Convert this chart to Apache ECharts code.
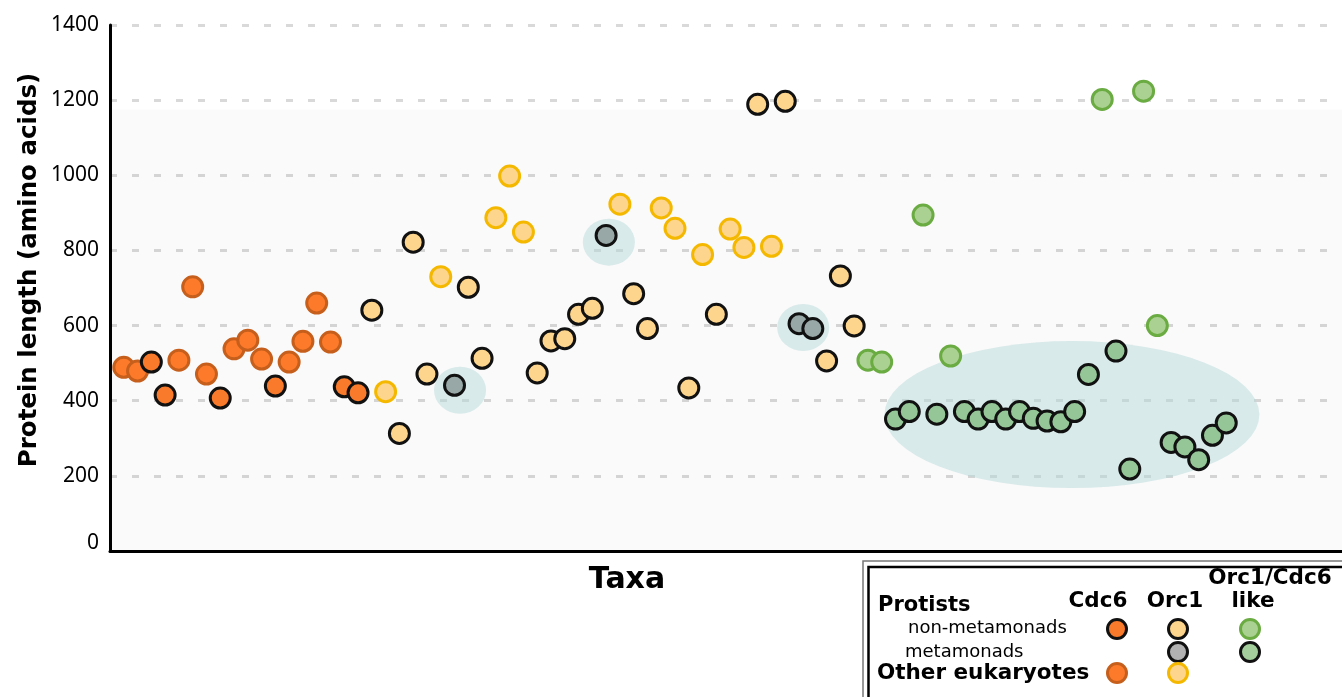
<!DOCTYPE html>
<html>
<head>
<meta charset="utf-8">
<script src="https://cdn.jsdelivr.net/npm/echarts@6/dist/echarts.min.js"></script>
<style>
  html, body { margin: 0; padding: 0; background: #ffffff; }
  #chart { width: 1342px; height: 697px; }
</style>
</head>
<body>
<div id="chart"></div>
<script>
// Protein length (amino acids) of each sequence, taxa ordered left to right
const lengths = [
  489, 479, 503, 415, 508, 703, 471, 407, 538, 561, 511, 439, 503, 558, 660, 556, 437, 421,
  641, 424, 313, 822, 471, 730, 441, 702, 513, 887, 998, 849, 474, 559, 565, 630, 646, 840,
  923, 685, 592, 913, 859, 434, 789, 630, 857, 808, 1189, 811, 1197, 605, 592, 506, 732, 599,
  508, 503, 351, 371, 894, 364, 519, 371, 351, 371, 351, 371, 353, 346, 344, 371, 470, 1202,
  532, 218, 1224, 600, 289, 277, 243, 308, 341
];

// Group of each sequence:
// C = Cdc6, other eukaryotes      P = Cdc6, protists (non-metamonads)
// O = Orc1, protists (non-meta)   Y = Orc1, other eukaryotes   G = Orc1, metamonads
// L = Orc1/Cdc6-like, non-meta    M = Orc1/Cdc6-like, metamonads
const groups = [
  'C','C','P','P','C','C','C','P','C','C','C','P','C','C','C','C','P','P',
  'O','Y','O','O','O','Y','G','O','O','Y','Y','Y','O','O','O','O','O','G',
  'Y','O','O','Y','Y','O','Y','O','Y','Y','O','Y','O','G','G','O','O','O',
  'L','L','M','M','L','M','L','M','M','M','M','M','M','M','M','M','M','L',
  'M','M','L','L','M','M','M','M','M'
];

// Metamonad clusters highlighted behind the points: [taxon position, length]
const clusterCenters = [[24.4, 428], [35.2, 822], [49.3, 595], [68.8, 363]];

const yTicks = [0, 200, 400, 600, 800, 1000, 1200, 1400];

const groupStyle = {
  C: { color: '#fd7a2a', borderColor: '#c65f1c' },
  P: { color: '#fa7a2b', borderColor: '#111111' },
  O: { color: '#fed58c', borderColor: '#111111' },
  Y: { color: '#fed58c', borderColor: '#f5b800' },
  G: { color: '#97a8a6', borderColor: '#111111' },
  L: { color: '#abd192', borderColor: '#6aab42' },
  M: { color: '#94c697', borderColor: '#111111' }
};

const pointData = lengths.map((v, i) => ({
  value: [i, v],
  itemStyle: Object.assign({ borderWidth: 3, opacity: 1 }, groupStyle[groups[i]])
}));

const clusterSizes = [[52, 47], [52, 47], [52, 47], [375, 147]];
const clusterData = clusterCenters.map((c, i) => ({ value: c, symbolSize: clusterSizes[i] }));

const FONT = 'DejaVu Sans';

// Legend drawn as a boxed key
const legendItems = [];
function key(x, y, fill, stroke) {
  legendItems.push({
    type: 'circle', shape: { cx: x, cy: y, r: 9.5 },
    style: { fill: fill, stroke: stroke, lineWidth: 3 }
  });
}
function label(x, y, text, size, bold, align) {
  legendItems.push({
    type: 'text', x: x, y: y,
    style: {
      text: text, fill: '#000', font: (bold ? 'bold ' : '') + size + 'px "' + FONT + '"',
      textAlign: align || 'left', textVerticalAlign: 'middle'
    }
  });
}
legendItems.push({ type: 'rect', shape: { x: 863, y: 561, width: 520, height: 200 },
  style: { fill: '#ffffff', stroke: '#777777', lineWidth: 1.5 } });
legendItems.push({ type: 'rect', shape: { x: 868.5, y: 567, width: 520, height: 200 },
  style: { fill: 'none', stroke: '#000000', lineWidth: 2.5 } });
label(878, 606, 'Protists', 21, true);
label(1098, 601, 'Cdc6', 21.5, true, 'center');
label(1175, 601, 'Orc1', 21.5, true, 'center');
label(1270, 578, 'Orc1/Cdc6', 21.5, true, 'center');
label(1253, 601, 'like', 21.5, true, 'center');
label(908, 628, 'non-metamonads', 18, false);
label(905, 652, 'metamonads', 18, false);
label(877, 673, 'Other eukaryotes', 21.5, true);
key(1117, 629, '#fa7a2b', '#111111');
key(1178, 629, '#fed58c', '#111111');
key(1250, 629, '#abd192', '#6aab42');
key(1178, 652, '#b2b2b2', '#111111');
key(1250, 652, '#a4cf9c', '#111111');
key(1117, 673, '#fd7a2a', '#c65f1c');
key(1178, 673, '#fed58c', '#f5b800');

const chart = echarts.init(document.getElementById('chart'), null, { renderer: 'canvas' });

chart.setOption({
  backgroundColor: '#ffffff',
  animation: false,
  grid: { left: 110, right: 0, top: 25, bottom: 146, containLabel: false },
  xAxis: {
    type: 'value', min: -1, max: 88.4,
    axisLine: { show: true, onZero: false, lineStyle: { color: '#000', width: 3 } },
    axisTick: { show: false }, axisLabel: { show: false }, splitLine: { show: false }
  },
  yAxis: {
    type: 'value', min: yTicks[0], max: yTicks[yTicks.length - 1], interval: 200,
    axisLine: { show: true, onZero: false, lineStyle: { color: '#000', width: 3 } },
    axisTick: { show: false },
    axisLabel: {
      color: '#000', fontFamily: 'Noto Sans', fontSize: 21, margin: 11,
      formatter: v => v === 0 ? '{z|0}' : String(v),
      rich: { z: { color: '#000', fontFamily: 'Noto Sans', fontSize: 21, padding: [0, 0, 16, 0] } }
    },
    splitLine: { show: true, lineStyle: { color: '#d9d9d9', width: 3, type: [7, 15] } }
  },
  series: [
    {
      type: 'scatter', name: 'clusters', silent: true, z: 1,
      symbol: 'circle',
      itemStyle: { color: 'rgba(184,218,218,0.5)', opacity: 1 },
      data: clusterData,
      markArea: {
        silent: true,
        itemStyle: { color: 'rgba(0,0,0,0.02)' },
        data: [[{ yAxis: 0 }, { yAxis: 1175 }]]
      }
    },
    {
      type: 'scatter', name: 'proteins', z: 3,
      symbol: 'circle', symbolSize: 20,
      data: pointData
    }
  ],
  graphic: [
    {
      type: 'text', x: 30, y: 270, rotation: Math.PI / 2,
      style: {
        text: 'Protein length (amino acids)', fill: '#000',
        font: 'bold 24.5px "' + FONT + '"', textAlign: 'center', textVerticalAlign: 'middle'
      }
    },
    {
      type: 'text', x: 627, y: 580,
      style: {
        text: 'Taxa', fill: '#000', font: 'bold 30px "' + FONT + '"',
        textAlign: 'center', textVerticalAlign: 'middle'
      }
    },
    { type: 'group', children: legendItems }
  ]
});
</script>
</body>
</html>
